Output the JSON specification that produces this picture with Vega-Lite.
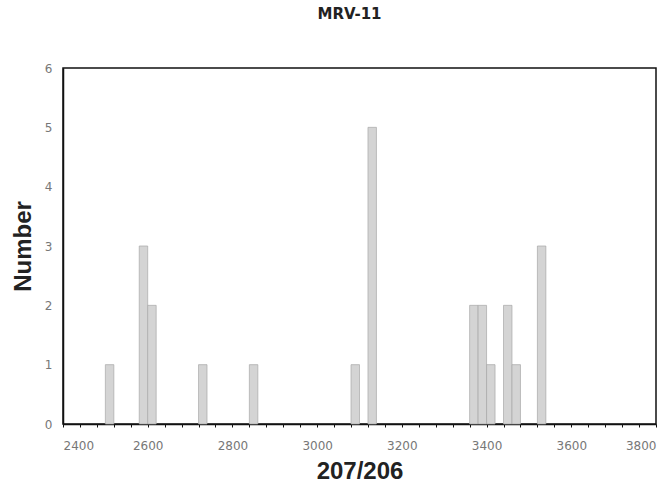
{
  "$schema": "https://vega.github.io/schema/vega-lite/v6.json",
  "width": 593,
  "height": 356,
  "autosize": "none",
  "padding": {"left": 63, "top": 68, "right": 14, "bottom": 61},
  "background": "white",
  "title": {
    "text": "MRV-11",
    "font": "DejaVu Sans",
    "fontSize": 15,
    "fontWeight": "bold",
    "color": "#222",
    "offset": 40,
    "anchor": "middle",
    "dx": -10
  },
  "config": {
    "view": {"stroke": "#111", "strokeWidth": 1.5},
    "axis": {"grid": false, "labelFont": "DejaVu Sans", "labelColor": "#777", "labelFontSize": 12, "titleFont": "Liberation Sans", "titleFontSize": 24, "titleFontWeight": "bold", "titleColor": "#222", "domainColor": "#111", "domainWidth": 1.5}
  },
  "data": {
    "values": [
      {"start": 2500, "end": 2520, "count": 1},
      {"start": 2580, "end": 2600, "count": 3},
      {"start": 2600, "end": 2620, "count": 2},
      {"start": 2720, "end": 2740, "count": 1},
      {"start": 2840, "end": 2860, "count": 1},
      {"start": 3080, "end": 3100, "count": 1},
      {"start": 3120, "end": 3140, "count": 5},
      {"start": 3360, "end": 3380, "count": 2},
      {"start": 3380, "end": 3400, "count": 2},
      {"start": 3400, "end": 3420, "count": 1},
      {"start": 3440, "end": 3460, "count": 2},
      {"start": 3460, "end": 3480, "count": 1},
      {"start": 3520, "end": 3540, "count": 3}
    ]
  },
  "mark": {"type": "bar", "fill": "#d4d4d4", "stroke": "#a8a8a8", "strokeWidth": 0.7},
  "encoding": {
    "x": {
      "field": "start",
      "type": "quantitative",
      "scale": {"domain": [2400, 3800], "nice": false, "zero": false},
      "axis": {
        "title": "207/206",
        "values": [2400, 2440, 2480, 2520, 2560, 2600, 2640, 2680, 2720, 2760, 2800, 2840, 2880, 2920, 2960, 3000, 3040, 3080, 3120, 3160, 3200, 3240, 3280, 3320, 3360, 3400, 3440, 3480, 3520, 3560, 3600, 3640, 3680, 3720, 3760, 3800],
        "labelExpr": "datum.value % 200 === 0 ? datum.label : ''",
        "format": "d",
        "tickColor": "#111",
        "tickSize": 3,
        "labelPadding": 13,
        "titlePadding": 8,
        "labelOverlap": false
      }
    },
    "x2": {"field": "end"},
    "y": {
      "field": "count",
      "type": "quantitative",
      "scale": {"domain": [0, 6], "nice": false},
      "axis": {
        "title": "Number",
        "values": [0, 1, 2, 3, 4, 5, 6],
        "ticks": false,
        "labelPadding": 11,
        "titlePadding": 9
      }
    },
    "y2": {"datum": 0}
  }
}
